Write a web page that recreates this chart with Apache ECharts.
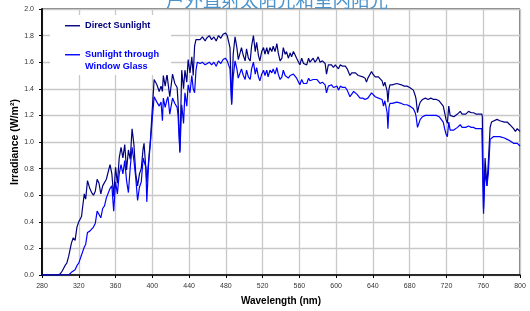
<!DOCTYPE html>
<html>
<head>
<meta charset="utf-8">
<script src="https://cdn.jsdelivr.net/npm/echarts@6/dist/echarts.min.js"></script>
<style>
  html, body { margin: 0; padding: 0; background: #fff; }
  #chart { width: 530px; height: 311px; }
</style>
</head>
<body>
<div id="chart"></div>
<script>
// wavelength (nm), shared by both series
var wavelength = [
  280, 290, 297, 300, 302, 305, 307, 309, 311, 312, 314, 316, 318, 320, 321, 323, 324, 326, 327.5, 329.5,
  332, 334, 336, 338, 340, 342, 344, 346, 348, 350, 352, 354, 356, 358, 360, 362, 364, 366, 368, 370,
  372, 374, 376, 378, 380, 382, 384, 386, 388, 390, 391, 393, 394, 396, 398, 400, 402, 405, 407.5, 409.5,
  411, 412, 414, 416, 417, 419, 422, 424.5, 427, 428, 430, 432, 434, 435.5, 437.5, 439, 441, 443, 444.5, 446,
  447.5, 449, 452, 454.5, 457.5, 459, 462, 464.5, 467, 469.5, 472, 474.5, 477, 479.5, 481.5, 483, 484.5, 486.3, 488, 490,
  492, 493.5, 495.5, 497, 499, 501, 502.5, 504.5, 506.5, 508, 510, 512, 513.5, 515.5, 517, 519, 521, 522.5, 524.5, 526,
  528, 530, 531.5, 533.5, 535.5, 537, 539, 541, 542.5, 544.5, 546, 548, 550, 551.5, 553.5, 555, 557, 559, 560.5, 562.5,
  564.5, 566, 568, 570, 571.5, 573, 575, 577, 579, 580.5, 582.5, 585, 588, 589.5, 591.5, 593.5, 595, 597, 599, 601,
  602.5, 604.5, 607, 610, 612, 615, 617, 619, 621, 622.5, 624, 626, 629, 631.5, 633, 634.5, 636, 638.5, 640, 642.5,
  644, 646, 648, 650, 651.5, 653, 654.5, 655.5, 656.3, 657.5, 658.5, 661, 663, 666, 668, 671, 674, 677, 680, 682,
  684, 686, 687, 688.5, 690, 691.5, 694, 697, 700, 703, 706, 709, 712, 714, 716.5, 718, 719.5, 721, 722.5, 724,
  726, 728, 729.5, 732, 735, 737, 738.5, 741, 744, 747, 749.5, 752, 755, 758.5, 759, 760.3, 762, 764, 765.5, 767.5,
  769, 771, 775, 778, 780, 783, 786, 789, 791, 793, 795, 797, 798.5, 800
];

var directSunlight = [
  0, 0, 0, 0.01, 0.03, 0.07, 0.09, 0.14, 0.15, 0.24, 0.28, 0.26, 0.36, 0.40, 0.40, 0.44, 0.50, 0.61, 0.57, 0.71,
  0.65, 0.62, 0.60, 0.63, 0.72, 0.69, 0.61, 0.67, 0.66, 0.72, 0.72, 0.83, 0.76, 0.59, 0.81, 0.69, 0.88, 0.96, 0.88, 0.98,
  0.79, 0.94, 0.87, 1.10, 0.98, 0.76, 0.67, 0.76, 0.80, 0.95, 0.99, 0.99, 0.70, 0.86, 1.02, 1.25, 1.47, 1.43, 1.38, 1.42,
  1.38, 1.50, 1.42, 1.51, 1.45, 1.34, 1.51, 1.44, 1.41, 1.30, 0.93, 1.54, 1.40, 1.54, 1.45, 1.62, 1.52, 1.64, 1.50, 1.72,
  1.77, 1.78, 1.77, 1.79, 1.76, 1.78, 1.80, 1.77, 1.79, 1.76, 1.80, 1.78, 1.81, 1.82, 1.80, 1.81, 1.71, 1.29, 1.66, 1.79,
  1.71, 1.62, 1.67, 1.71, 1.65, 1.61, 1.70, 1.63, 1.61, 1.72, 1.80, 1.68, 1.75, 1.65, 1.61, 1.68, 1.71, 1.66, 1.71, 1.66,
  1.71, 1.68, 1.72, 1.68, 1.74, 1.67, 1.61, 1.63, 1.71, 1.66, 1.68, 1.63, 1.67, 1.64, 1.68, 1.66, 1.63, 1.62, 1.58, 1.63,
  1.59, 1.60, 1.58, 1.63, 1.60, 1.61, 1.63, 1.60, 1.62, 1.64, 1.60, 1.61, 1.59, 1.51, 1.58, 1.59, 1.58, 1.56, 1.58, 1.57,
  1.55, 1.58, 1.57, 1.57, 1.55, 1.50, 1.52, 1.53, 1.52, 1.51, 1.50, 1.49, 1.49, 1.48, 1.45, 1.48, 1.49, 1.53, 1.51, 1.49,
  1.50, 1.49, 1.48, 1.46, 1.42, 1.45, 1.46, 1.38, 1.30, 1.40, 1.43, 1.43, 1.44, 1.44, 1.43, 1.43, 1.42, 1.42, 1.41, 1.40,
  1.39, 1.35, 1.32, 1.22, 1.27, 1.30, 1.32, 1.33, 1.32, 1.33, 1.32, 1.32, 1.31, 1.30, 1.27, 1.22, 1.17, 1.14, 1.27, 1.20,
  1.21, 1.19, 1.18, 1.21, 1.23, 1.21, 1.22, 1.21, 1.23, 1.22, 1.22, 1.21, 1.21, 1.21, 1.19, 0.50, 0.88, 0.67, 0.84, 1.11,
  1.15, 1.16, 1.17, 1.16, 1.16, 1.15, 1.15, 1.13, 1.12, 1.10, 1.08, 1.10, 1.11, 1.08
];

var windowGlass = [
  0, 0, 0, 0, 0, 0, 0, 0, 0.01, 0.02, 0.03, 0.04, 0.07, 0.09, 0.11, 0.15, 0.17, 0.21, 0.23, 0.32,
  0.33, 0.34, 0.36, 0.39, 0.48, 0.48, 0.43, 0.50, 0.52, 0.58, 0.59, 0.65, 0.67, 0.48, 0.70, 0.61, 0.76, 0.83, 0.76, 0.86,
  0.71, 0.62, 0.81, 0.96, 0.86, 0.73, 0.56, 0.66, 0.70, 0.88, 0.87, 0.81, 0.55, 0.84, 1.00, 1.18, 1.34, 1.30, 1.27, 1.30,
  1.16, 1.33, 1.26, 1.32, 1.34, 1.21, 1.33, 1.29, 1.26, 1.20, 0.92, 1.28, 1.14, 1.37, 1.27, 1.43, 1.37, 1.50, 1.40, 1.37,
  1.54, 1.60, 1.59, 1.60, 1.58, 1.59, 1.60, 1.58, 1.60, 1.57, 1.61, 1.59, 1.62, 1.63, 1.61, 1.62, 1.55, 1.28, 1.49, 1.61,
  1.55, 1.48, 1.52, 1.55, 1.50, 1.47, 1.54, 1.49, 1.47, 1.55, 1.60, 1.51, 1.56, 1.49, 1.46, 1.51, 1.54, 1.50, 1.54, 1.49,
  1.54, 1.52, 1.55, 1.51, 1.56, 1.51, 1.47, 1.49, 1.54, 1.50, 1.51, 1.48, 1.50, 1.49, 1.51, 1.50, 1.48, 1.47, 1.43, 1.47,
  1.44, 1.45, 1.44, 1.48, 1.46, 1.46, 1.47, 1.46, 1.47, 1.48, 1.44, 1.45, 1.43, 1.37, 1.42, 1.43, 1.43, 1.41, 1.42, 1.42,
  1.39, 1.42, 1.41, 1.41, 1.39, 1.34, 1.36, 1.38, 1.37, 1.36, 1.35, 1.33, 1.33, 1.32, 1.31, 1.33, 1.34, 1.37, 1.36, 1.34,
  1.34, 1.33, 1.32, 1.32, 1.27, 1.31, 1.32, 1.22, 1.10, 1.26, 1.29, 1.29, 1.30, 1.30, 1.29, 1.29, 1.28, 1.28, 1.27, 1.26,
  1.25, 1.22, 1.19, 1.11, 1.14, 1.17, 1.19, 1.20, 1.20, 1.20, 1.20, 1.20, 1.19, 1.18, 1.15, 1.10, 1.06, 1.04, 1.15, 1.09,
  1.10, 1.09, 1.09, 1.11, 1.13, 1.11, 1.11, 1.11, 1.12, 1.11, 1.11, 1.10, 1.10, 1.10, 1.09, 0.46, 0.78, 0.67, 0.76, 1.02,
  1.03, 1.04, 1.04, 1.04, 1.03, 1.03, 1.02, 1.01, 1.00, 0.99, 0.98, 0.99, 0.99, 0.97
];

var seriesNames = ['Direct Sunlight', 'Sunlight through\nWindow Glass'];
var seriesColors = ['#000080', '#0000ff'];

function pairs(xs, ys) {
  return xs.map(function (x, i) { return [x, ys[i]]; });
}

var chart = echarts.init(document.getElementById('chart'));
var font = '"Liberation Sans", Arial, sans-serif';
var legendFont = { fontFamily: font, fontSize: 9.2, fontWeight: 'bold', lineHeight: 11.5 };

function richText(color) {
  return Object.assign({ color: color }, legendFont);
}

var option = {
  animation: false,
  title: {
    text: '户外直射太阳光和室内阳光',
    left: 166,
    top: -9,
    padding: 0,
    textStyle: {
      color: '#4a93cc',
      fontSize: 18.5,
      fontWeight: 'normal',
      fontFamily: '"Noto Sans CJK SC", sans-serif'
    }
  },
  grid: {
    left: 42,
    right: 10,
    top: 9,
    bottom: 36,
    outerBoundsMode: 'none',
    show: true,
    borderColor: '#000',
    borderWidth: 1
  },
  legend: {
    orient: 'vertical',
    left: 50,
    top: 15,
    padding: [5, 12, 3, 15],
    itemGap: 6,
    icon: 'rect',
    itemWidth: 15,
    itemHeight: 1.4,
    backgroundColor: '#fff',
    selectedMode: false,
    textStyle: legendFont,
    formatter: function (name) {
      var lines = name.split('\n');
      if (lines.length === 1) return '{t|' + name + '}';
      return '{pad| }\n' + lines.map(function (l) { return '{t|' + l + '}'; }).join('\n');
    },
    data: [
      { name: seriesNames[0], textStyle: { color: seriesColors[0], rich: { t: richText(seriesColors[0]) } } },
      { name: seriesNames[1], textStyle: { color: seriesColors[1], rich: { pad: { lineHeight: 11.5, fontSize: 9 }, t: richText(seriesColors[1]) } } }
    ]
  },
  xAxis: {
    type: 'value',
    min: 280,
    max: 800,
    interval: 40,
    name: 'Wavelength (nm)',
    nameLocation: 'middle',
    nameGap: 21,
    nameMoveOverlap: false,
    nameTextStyle: { fontFamily: font, fontSize: 10, fontWeight: 'bold', color: '#000' },
    axisLine: { lineStyle: { color: '#000', width: 1.5 } },
    axisTick: { show: true, length: 3, lineStyle: { color: '#000' } },
    axisLabel: { fontFamily: font, fontSize: 7, color: '#333', margin: 8 },
    splitLine: { show: true, lineStyle: { color: '#c8c8c8', width: 1.3 } }
  },
  yAxis: {
    type: 'value',
    min: 0,
    max: 2,
    interval: 0.2,
    name: 'Irradiance (W/m²)',
    nameLocation: 'middle',
    nameGap: 21,
    nameMoveOverlap: false,
    nameTextStyle: { fontFamily: font, fontSize: 10.5, fontWeight: 'bold', color: '#000' },
    axisLine: { show: true, lineStyle: { color: '#000', width: 1.8 } },
    axisTick: { show: true, length: 3, lineStyle: { color: '#000' } },
    axisLabel: {
      fontFamily: font, fontSize: 7, color: '#333', margin: 8,
      formatter: function (v) { return v.toFixed(1); }
    },
    splitLine: { show: true, lineStyle: { color: '#c8c8c8', width: 1.3 } }
  },
  series: [
    {
      name: seriesNames[0],
      type: 'line',
      symbol: 'none',
      data: pairs(wavelength, directSunlight),
      lineStyle: { color: seriesColors[0], width: 1.2 },
      itemStyle: { color: seriesColors[0] },
      z: 2
    },
    {
      name: seriesNames[1],
      type: 'line',
      symbol: 'none',
      data: pairs(wavelength, windowGlass),
      lineStyle: { color: seriesColors[1], width: 1.2 },
      itemStyle: { color: seriesColors[1] },
      z: 3
    }
  ]
};

chart.setOption(option);
</script>
</body>
</html>
